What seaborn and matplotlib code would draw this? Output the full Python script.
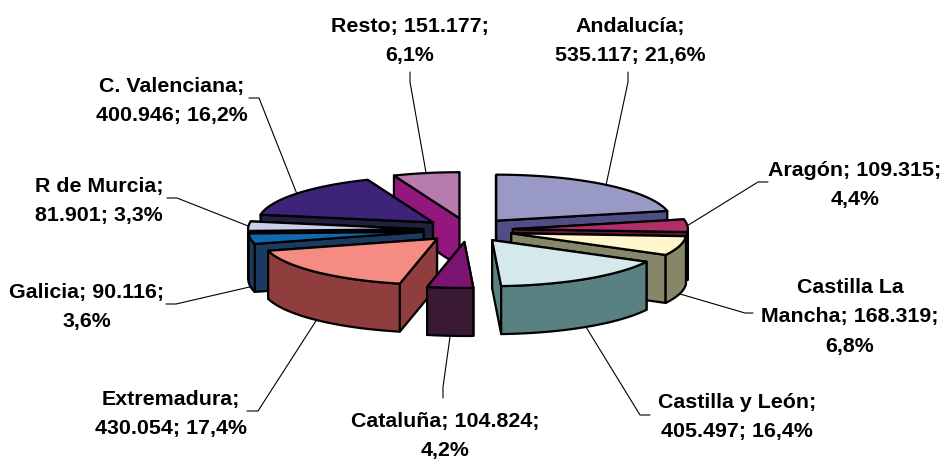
import numpy as np
import matplotlib
matplotlib.use("Agg")
import matplotlib.pyplot as plt
import seaborn as sns

# Data
regions = ["Andalucía", "Aragón", "Castilla La Mancha", "Castilla y León", "Cataluña",
           "Extremadura", "Galicia", "R de Murcia", "C. Valenciana", "Resto"]
values = [535117, 109315, 168319, 405497, 104824, 430054, 90116, 81901, 400946, 151177]
percents = [21.6, 4.4, 6.8, 16.4, 4.2, 17.4, 3.6, 3.3, 16.2, 6.1]

# Colours of the top face and of the walls
top_colors = ["#9999C6", "#B02F68", "#FFF6CC", "#D5E9ED", "#7B1470",
              "#F58C84", "#0F6AAE", "#CCCDE6", "#3D2478", "#B87BAE"]
wall_colors = ["#4F4F85", "#5C1A3C", "#868668", "#5A8181", "#3A1A33",
               "#8F3D3D", "#1A3A60", "#1E1E48", "#20203F", "#94167F"]

# Label text wrapping and placement (pixels of the figure)
label_formats = ["{n};\n{v}; {p}%", "{n}; {v};\n{p}%", "Castilla La\nMancha; {v};\n{p}%",
                 "{n};\n{v}; {p}%", "{n}; {v};\n{p}%", "{n};\n{v}; {p}%",
                 "{n}; {v};\n{p}%", "{n};\n{v}; {p}%", "{n};\n{v}; {p}%", "{n}; {v};\n{p}%"]
label_xy = [(630, 41), (855, 185), (850, 317), (737, 417), (445, 436),
            (171, 414), (87, 307), (99, 201), (172, 101), (410, 41)]
leader_end = [[(628, 83), (628, 73)], [(758, 183), (768, 183)], [(745, 314), (753, 314)],
              [(640, 416), (650, 416)], [(443, 388), (443, 399)], [(258, 412), (247, 412)],
              [(176, 305), (166, 305)], [(177, 199), (167, 199)], [(259, 99), (249, 99)],
              [(410, 83), (410, 73)]]

# Pie geometry (pixels)
cx, cy = 468, 231
rx, ry = 175, 46
ex, ey = 45, 12
depth = 48
draw_order = [9, 8, 7, 6, 5, 0, 1, 2, 3, 4]

sns.set_style("white")
plt.rcParams["font.family"] = ["Liberation Sans", "DejaVu Sans"]

fig = plt.figure(figsize=(9.51, 4.6), dpi=100)
ax = fig.add_axes([0, 0, 1, 1])
ax.set_xlim(0, 951)
ax.set_ylim(460, 0)
ax.set_axis_off()

shares = np.array(values) / sum(values)
stops = np.concatenate([[0], np.cumsum(shares)]) * 360
edge = dict(edgecolor="black", linewidth=1.6, joinstyle="round")


def rim(x0, y0, deg):
    t = np.radians(deg)
    return x0 + rx * np.sin(t), y0 - ry * np.cos(t)


for i in draw_order:
    a0, a1 = stops[i], stops[i + 1]
    mid = (a0 + a1) / 2
    ax0 = cx + ex * np.sin(np.radians(mid))
    ay0 = cy - ey * np.cos(np.radians(mid))

    # cut faces, the hidden one first
    cuts = [a0, a1] if mid < 180 else [a1, a0]
    for a in cuts:
        px, py = rim(ax0, ay0, a)
        ax.fill([ax0, px, px, ax0], [ay0, py, py + depth, ay0 + depth],
                facecolor=wall_colors[i], **edge)

    # outer wall, only the front half of the rim shows
    lo, hi = max(a0, 90), min(a1, 270)
    if hi > lo:
        arc = np.linspace(lo, hi, 40)
        px, py = rim(ax0, ay0, arc)
        ax.fill(np.r_[px, px[::-1]], np.r_[py, py[::-1] + depth],
                facecolor=wall_colors[i], **edge)

    # top face
    arc = np.linspace(a0, a1, 60)
    px, py = rim(ax0, ay0, arc)
    ax.fill(np.r_[ax0, px], np.r_[ay0, py], facecolor=top_colors[i], **edge)

# leader lines and labels
for i, name in enumerate(regions):
    a0, a1 = stops[i], stops[i + 1]
    mid = (a0 + a1) / 2
    ax0 = cx + ex * np.sin(np.radians(mid))
    ay0 = cy - ey * np.cos(np.radians(mid))
    sx, sy = rim(ax0, ay0, mid)
    if 90 < mid < 270:
        sy += depth
    xs = [sx] + [p[0] for p in leader_end[i]]
    ys = [sy] + [p[1] for p in leader_end[i]]
    ax.plot(xs, ys, color="black", linewidth=0.8, zorder=0.5)

    txt = label_formats[i].format(
        n=name,
        v=f"{values[i]:,}".replace(",", "."),
        p=f"{percents[i]:.1f}".replace(".", ","),
    )
    ax.text(label_xy[i][0], label_xy[i][1], txt, ha="center", va="center",
            fontsize=15.4, fontweight="bold", color="black", linespacing=1.68)

fig.savefig("out.png", dpi=100, facecolor="white")
